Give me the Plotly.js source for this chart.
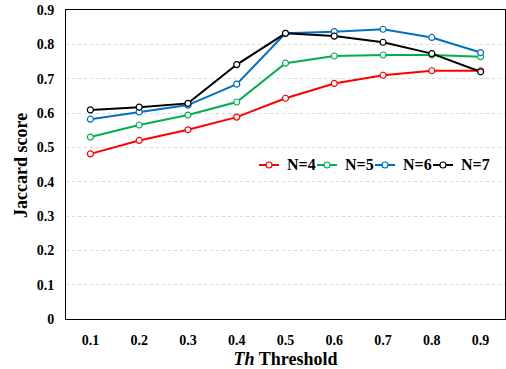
<!DOCTYPE html>
<html><head><meta charset="utf-8">
<script src="https://cdn.plot.ly/plotly-3.0.1.min.js"></script>
<style>html,body{margin:0;padding:0;background:#fff}#chart{width:506px;height:369px}</style>
</head><body><div id="chart"></div>
<script>
const thresholds = ["0.1","0.2","0.3","0.4","0.5","0.6","0.7","0.8","0.9"];
const n4 = [0.481, 0.520, 0.551, 0.588, 0.643, 0.686, 0.710, 0.723, 0.723];
const n5 = [0.530, 0.565, 0.594, 0.632, 0.745, 0.766, 0.769, 0.769, 0.764];
const n6 = [0.582, 0.603, 0.623, 0.684, 0.832, 0.837, 0.844, 0.820, 0.776];
const n7 = [0.609, 0.617, 0.628, 0.741, 0.832, 0.824, 0.806, 0.773, 0.720];
const names = ["N=4","N=5","N=6","N=7"];
const colors = ["#FF0000","#00B050","#0070C0","#000000"];
const series = [n4,n5,n6,n7];
const traces = series.map((s,i)=>({
  x: thresholds, y: s, name: names[i], type:'scatter', mode:'lines+markers',
  line:{color:colors[i], width:2},
  marker:{symbol:'circle', size:6, color:'#ffffff', line:{color:colors[i], width:1.2}},
  showlegend:false
}));
const fam = '"Liberation Serif", "Times New Roman", serif';
const W=506, H=369, M={l:66, r:1, t:10, b:50};
const pw = W-M.l-M.r, ph = H-M.t-M.b;
const px = v => (v-M.l)/pw;       // pixel x -> paper
const py = v => (H-M.b-v)/ph;     // pixel y -> paper
const shapes = [], annotations = [];
const legY = 165, legX0 = 259, legStep = 58;
names.forEach((n,i)=>{
  const x0 = legX0 + i*legStep;
  shapes.push({type:'line', xref:'paper', yref:'paper', x0:px(x0), x1:px(x0+20), y0:py(legY), y1:py(legY),
    line:{color:colors[i], width:2}});
  shapes.push({type:'circle', xref:'paper', yref:'paper', xsizemode:'pixel', ysizemode:'pixel',
    xanchor:px(x0+10), yanchor:py(legY), x0:-3, x1:3, y0:-3, y1:3,
    fillcolor:'#ffffff', line:{color:colors[i], width:1.2}});
  annotations.push({xref:'paper', yref:'paper', x:px(x0+26), y:py(legY), xanchor:'left', yanchor:'middle',
    text:'<b>'+n+'</b>', showarrow:false, font:{family:fam, size:16, color:'#000'}});
});
annotations.push({xref:'paper', yref:'paper', x:px(21), y:py(166), xanchor:'center', yanchor:'middle',
  textangle:-90, text:'<b>Jaccard score</b>', showarrow:false, font:{family:fam, size:18, color:'#000'}});
const layout = {
  width:W, height:H, margin:M,
  paper_bgcolor:'#fff', plot_bgcolor:'#fff',
  font:{family:fam, color:'#000'},
  showlegend:false, shapes:shapes, annotations:annotations,
  xaxis:{type:'category', range:[-0.5,8.5], showgrid:false, showline:true, linecolor:'#000', linewidth:1,
    mirror:true, ticks:'outside', ticklen:8, tickcolor:'rgba(0,0,0,0)',
    tickfont:{family:fam, size:14, weight:'bold'},
    title:{text:'<i>Th</i> Threshold', font:{family:fam, size:18, weight:'bold'}, standoff:5}},
  yaxis:{range:[0,0.9], dtick:0.1, showgrid:true, gridcolor:'#d9d9d9', griddash:'dot', gridwidth:1,
    showline:true, linecolor:'#000', linewidth:1, mirror:true, ticks:'outside', ticklen:8, tickcolor:'rgba(0,0,0,0)',
    zeroline:false, tickformat:'.1~f',
    tickfont:{family:fam, size:14, weight:'bold'}}
};
Plotly.newPlot('chart', traces, layout, {displayModeBar:false, staticPlot:true});
</script></body></html>
